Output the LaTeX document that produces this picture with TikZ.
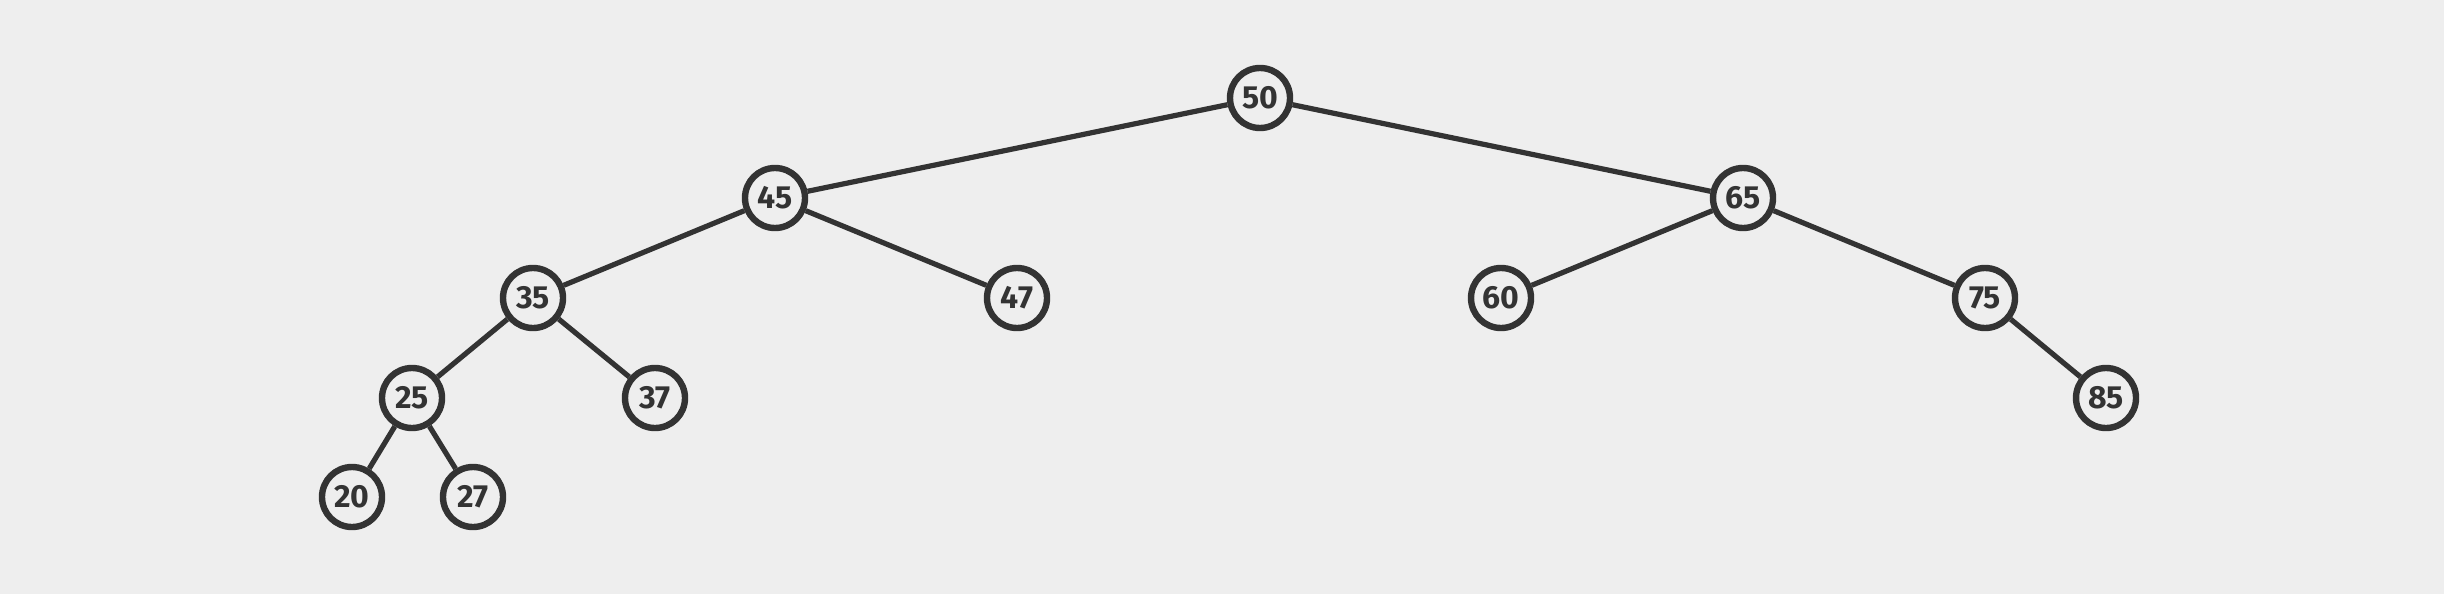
\documentclass[tikz,border=0pt]{standalone}
\usepackage{fontspec}
\setmainfont{Fira Sans}
\definecolor{bgcol}{HTML}{EEEEEE}
\definecolor{inkcol}{HTML}{333333}

\tikzset{every picture/.style={line width=2.6pt}}
\tikzset{key/.style={circle,draw=inkcol,fill=bgcol,line width=3.2pt,minimum size=30pt,inner sep=0pt,text=inkcol,font=\bfseries\fontsize{16}{16}\selectfont}}

\begin{document}
\begin{tikzpicture}[x=0.5pt,y=0.5pt,yscale=-1,xscale=1]
        \fill [bgcol] (0,0) rectangle (2444,594) ;
        \useasboundingbox (0,0) rectangle (2444,594) ;
        \node [key] (k50) at (1260,98) {50};
        \node [key] (k45) at (775,198) {45};
        \node [key] (k65) at (1743,198) {65};
        \node [key] (k35) at (533,298) {35};
        \node [key] (k47) at (1017,298) {47};
        \node [key] (k60) at (1501,298) {60};
        \node [key] (k75) at (1985,298) {75};
        \node [key] (k25) at (412,398) {25};
        \node [key] (k37) at (655,398) {37};
        \node [key] (k85) at (2106,398) {85};
        \node [key] (k20) at (352,497) {20};
        \node [key] (k27) at (473,497) {27};
        \draw [inkcol] (k50) -- (k45) ;
        \draw [inkcol] (k50) -- (k65) ;
        \draw [inkcol] (k45) -- (k35) ;
        \draw [inkcol] (k45) -- (k47) ;
        \draw [inkcol] (k65) -- (k60) ;
        \draw [inkcol] (k65) -- (k75) ;
        \draw [inkcol] (k35) -- (k25) ;
        \draw [inkcol] (k35) -- (k37) ;
        \draw [inkcol] (k75) -- (k85) ;
        \draw [inkcol] (k25) -- (k20) ;
        \draw [inkcol] (k25) -- (k27) ;
    \end{tikzpicture}
\end{document}
